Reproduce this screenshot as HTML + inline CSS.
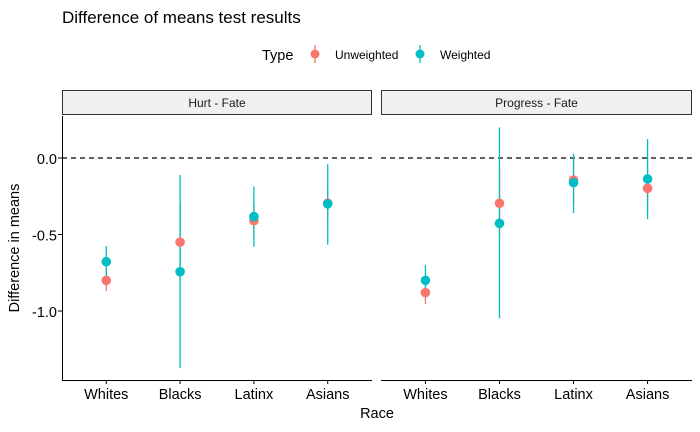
<!DOCTYPE html>
<html><head><meta charset="utf-8"><style>
body{margin:0;background:#fff;}
svg{display:block;font-family:"Liberation Sans",Arial,sans-serif;}
</style></head><body>
<svg id="chart" width="700" height="432" viewBox="0 0 700 432" xmlns="http://www.w3.org/2000/svg">
<text x="62" y="23" font-size="17" fill="#000">Difference of means test results</text>
<g>
<text x="262" y="60" font-size="14.5">Type</text>
<g>
<line x1="315" y1="45" x2="315" y2="63" stroke="#F8766D" stroke-width="1.3"/>
<circle cx="315" cy="54" r="4.5" fill="#F8766D"/>
<text x="335" y="59" font-size="12">Unweighted</text></g>
<g>
<line x1="420" y1="45" x2="420" y2="63" stroke="#00BFC4" stroke-width="1.3"/>
<circle cx="420" cy="54" r="4.5" fill="#00BFC4"/>
<text x="440" y="59" font-size="12">Weighted</text></g>
</g>
<g id="yaxis"></g>
<text transform="translate(19,248) rotate(-90)" text-anchor="middle" font-size="14.5">Difference in means</text>
<text x="377" y="418" text-anchor="middle" font-size="14.5">Race</text>
<g id="panels"></g>
</svg>
<script>
const categories = ["Whites","Blacks","Latinx","Asians"];
const panels = ["Hurt - Fate","Progress - Fate"];
const yTicks = [0, -0.5, -1.0];
const yTickLabels = ["0.0","-0.5","-1.0"];
// [panel][category]
const unwMean = [[-0.80,-0.55,-0.41,-0.295],[-0.88,-0.296,-0.144,-0.198]];
const unwLow  = [[-0.87,-0.80,-0.52,-0.40],[-0.954,-0.52,-0.30,-0.35]];
const unwHigh = [[-0.72,-0.30,-0.30,-0.20],[-0.80,-0.057,0.0,-0.05]];
const wMean = [[-0.678,-0.743,-0.383,-0.30],[-0.80,-0.427,-0.161,-0.137]];
const wLow  = [[-0.78,-1.373,-0.58,-0.567],[-0.87,-1.048,-0.36,-0.40]];
const wHigh = [[-0.575,-0.111,-0.187,-0.04],[-0.70,0.20,0.03,0.124]];

const NS="http://www.w3.org/2000/svg";
const plotTop=116,plotBottom=380;
const yScale = v => 158 - v*153;
const panelX=[[62,372],[381,692]];
const xOf=(p,i)=>{const a=panelX[p][0],b=panelX[p][1];const step=(b-a)/(categories.length-1+1.2);return a+step*(i+0.6);};
function mk(tag,attrs,parent){const e=document.createElementNS(NS,tag);for(const k in attrs)e.setAttribute(k,attrs[k]);parent.appendChild(e);return e;}
const yax=document.getElementById('yaxis');
yTicks.forEach((t,i)=>{
  const tx=mk('text',{x:57,y:yScale(t)+6,'text-anchor':'end','font-size':'14.5',fill:'#000'},yax);
  tx.textContent=yTickLabels[i];
  
  
  mk('line',{x1:58,x2:62,y1:yScale(t),y2:yScale(t),stroke:'#000','stroke-width':1},yax);
});
const pg=document.getElementById('panels');
panels.forEach((name,p)=>{
  const a=panelX[p][0],b=panelX[p][1];
  const g=mk('g',{},pg);
  
  
  const strip=mk('rect',{x:a+0.5,y:90.5,width:b-a-1,height:24,fill:'#F0F0F0',stroke:'#333','stroke-width':1},g);
  
  
  const st=mk('text',{x:(a+b)/2,y:107,'text-anchor':'middle','font-size':'12',fill:'#1a1a1a'},g);
  st.textContent=name;
  mk('line',{x1:a,x2:b,y1:yScale(0),y2:yScale(0),stroke:'#000','stroke-width':1.2,'stroke-dasharray':'5,4'},g);
  if(p===0) mk('line',{x1:a+0.5,x2:a+0.5,y1:plotTop,y2:plotBottom,stroke:'#000','stroke-width':1},g);
  mk('line',{x1:a,x2:b,y1:plotBottom+0.5,y2:plotBottom+0.5,stroke:'#000','stroke-width':1},g);
  categories.forEach((c,i)=>{
    const x=xOf(p,i);
    mk('line',{x1:x,x2:x,y1:plotBottom,y2:plotBottom+4,stroke:'#000'},g);
    const t=mk('text',{x:x,y:399,'text-anchor':'middle','font-size':'14.5',fill:'#000'},g);
    t.textContent=c;
    
    
    const l1=mk('line',{x1:x,x2:x,y1:yScale(unwHigh[p][i]),y2:yScale(unwLow[p][i]),stroke:'#F8766D','stroke-width':1.3},g);
    
    
    const l2=mk('line',{x1:x,x2:x,y1:yScale(wHigh[p][i]),y2:yScale(wLow[p][i]),stroke:'#00BFC4','stroke-width':1.3},g);
    
    
    const c1=mk('circle',{cx:x,cy:yScale(unwMean[p][i]),r:4.8,fill:'#F8766D'},g);
    
    
    const c2=mk('circle',{cx:x,cy:yScale(wMean[p][i]),r:4.8,fill:'#00BFC4'},g);
    
    
  });
});
</script>
</body></html>
